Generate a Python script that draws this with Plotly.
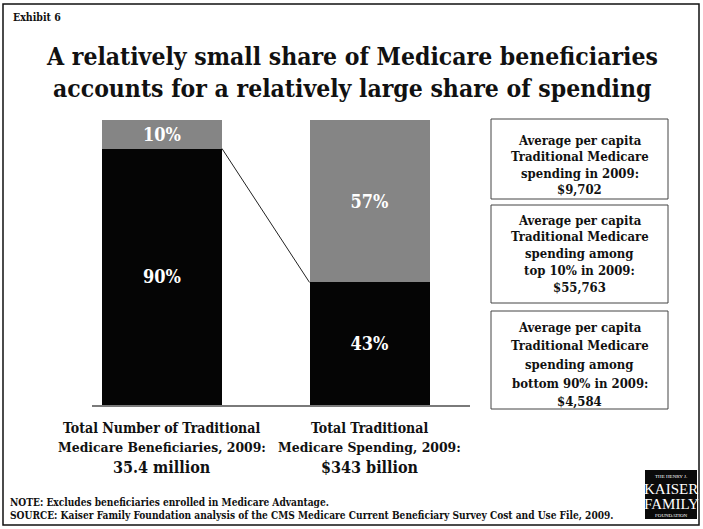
import plotly.graph_objects as go

# ---- data ----
bar_positions = [0, 1]
bottom_share = [90, 43]   # bottom 90% of beneficiaries
top_share = [10, 57]      # top 10% of beneficiaries
category_lines = [
    ["Total Number of Traditional", "Medicare Beneficiaries, 2009:"],
    ["Total Traditional", "Medicare Spending, 2009:"],
]
category_totals = ["35.4 million", "$343 billion"]
callout_lines = [
    ["Average per capita", "Traditional Medicare", "spending in 2009:", "$9,702"],
    ["Average per capita", "Traditional Medicare", "spending among", "top 10% in 2009:", "$55,763"],
    ["Average per capita", "Traditional Medicare", "spending among", "bottom 90% in 2009:", "$4,584"],
]

W, H = 703, 529
SERIF = "DejaVu Serif Condensed, Liberation Serif, serif"
BAR_W = 0.578


def py(p):
    """pixel row -> paper y"""
    return 1 - p / H


def px(p):
    return p / W


label_font = dict(family=SERIF, size=18, color="white", weight="bold")

fig = go.Figure()
fig.add_bar(
    x=bar_positions, y=bottom_share, width=BAR_W,
    marker=dict(color="#050505", line=dict(width=0)),
    text=[f"{v}%" for v in bottom_share], textposition="inside",
    insidetextanchor="middle", textfont=label_font,
    hoverinfo="skip",
)
fig.add_bar(
    x=bar_positions, y=top_share, width=BAR_W,
    marker=dict(color="#858585", line=dict(width=0)),
    text=[f"{v}%" for v in top_share], textposition="inside",
    insidetextanchor="middle", textfont=label_font,
    hoverinfo="skip",
)

shapes = []
# connector between the 90% and 43% boundaries
shapes.append(dict(type="line", xref="x", yref="y",
                   x0=bar_positions[0] + BAR_W / 2, y0=bottom_share[0],
                   x1=bar_positions[1] - BAR_W / 2, y1=bottom_share[1],
                   line=dict(color="#222", width=1)))
# outer frame
shapes.append(dict(type="rect", xref="paper", yref="paper",
                   x0=px(3), x1=px(699), y0=py(525), y1=py(4),
                   line=dict(color="#111", width=1.5)))
# callout boxes
box_rows = [(119, 199), (205, 303), (311, 409)]
for top, bot in box_rows:
    shapes.append(dict(type="rect", xref="paper", yref="paper",
                       x0=px(491), x1=px(668), y0=py(bot), y1=py(top),
                       line=dict(color="#444", width=1)))
# logo block
shapes.append(dict(type="rect", xref="paper", yref="paper",
                   x0=px(645), x1=px(697), y0=py(519), y1=py(470),
                   fillcolor="#0a0a0a", line=dict(width=0)))

annotations = []


def text(x, y, s, size, color="#111", xref="paper", anchor="center", bold=True, family=SERIF):
    annotations.append(dict(
        x=x, y=y, xref=xref, yref="paper", text=s, showarrow=False,
        xanchor=anchor, yanchor="middle",
        font=dict(family=family, size=size, color=color, weight="bold" if bold else "normal"),
    ))


# header
text(px(11), py(17), "Exhibit 6", 10.5, anchor="left")
text(px(351.5), py(56), "A relatively small share of Medicare beneficiaries", 24.5)
text(px(351.5), py(88), "accounts for a relatively large share of spending", 24.5)

# category labels under the bars
for i, lines in enumerate(category_lines):
    text(bar_positions[i], py(428), lines[0], 14, xref="x")
    text(bar_positions[i], py(447), lines[1], 13.8, xref="x")
    text(bar_positions[i], py(467), category_totals[i], 16, xref="x")

# callout texts
callout_rows = [
    [140, 156.5, 173, 189.5],
    [220, 236.5, 253, 270, 287],
    [327, 345, 364, 383, 401],
]
for lines, rows in zip(callout_lines, callout_rows):
    for s, r in zip(lines, rows):
        text(px(579.5), py(r), s, 13)

# notes
text(px(8), py(502.5), "NOTE: Excludes beneficiaries enrolled in Medicare Advantage.", 10.1, anchor="left")
text(px(8), py(515), "SOURCE: Kaiser Family Foundation analysis of the CMS Medicare Current Beneficiary Survey Cost and Use File, 2009.", 10.1, anchor="left")

# logo lettering
LOGO = "Liberation Serif, serif"
text(px(671), py(476), "THE HENRY J.", 5, color="white", bold=False, family=LOGO)
text(px(671), py(489), "KAISER", 15, color="white", bold=False, family=LOGO)
text(px(671), py(504), "FAMILY", 15, color="white", bold=False, family=LOGO)
text(px(671), py(515), "FOUNDATION", 5, color="white", bold=False, family=LOGO)

fig.update_layout(
    width=W, height=H,
    margin=dict(l=0, r=0, t=0, b=0),
    paper_bgcolor="white", plot_bgcolor="white",
    barmode="stack", showlegend=False,
    shapes=shapes, annotations=annotations,
    xaxis=dict(domain=[px(92), px(470)], range=[-0.337, 1.484],
               showgrid=False, zeroline=False, showticklabels=False,
               showline=True, linecolor="#7a7a7a", linewidth=2, ticks=""),
    yaxis=dict(domain=[py(405), py(120)], range=[0, 100],
               showgrid=False, zeroline=False, showticklabels=False, showline=False),
    uniformtext=dict(mode=False),
)

fig.write_html("out.html")
